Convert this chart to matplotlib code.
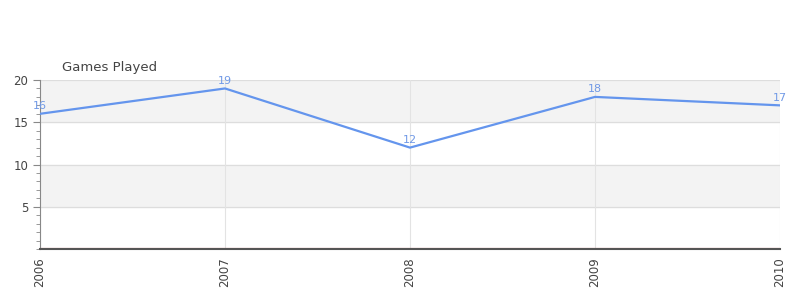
import matplotlib.pyplot as plt
from matplotlib.ticker import MultipleLocator

years = [2006, 2007, 2008, 2009, 2010]
games = [16, 19, 12, 18, 17]
y_ticks = [5, 10, 15, 20]

fig = plt.figure(figsize=(8, 3), dpi=100)
ax = fig.add_axes([0.05, 0.17, 0.925, 0.5633])

# alternating bands
ax.axhspan(5, 10, color='#f3f3f3', zorder=0)
ax.axhspan(15, 20, color='#f3f3f3', zorder=0)
for y in y_ticks:
    ax.axhline(y, color='#dddddd', lw=0.9, zorder=1)
for x in years:
    ax.axvline(x, color='#e3e3e3', lw=0.8, zorder=1)

ax.plot(years, games, color='#6495ed', lw=1.6, zorder=3)
for x, v in zip(years, games):
    ax.annotate(str(v), (x, v), xytext=(0, 2), textcoords='offset points',
                ha='center', va='bottom', fontsize=8, color='#7099e6', zorder=4)

ax.axhline(0.15, color='#cc0000', lw=0.8, zorder=2)

ax.set_xlim(2006, 2010)
ax.set_ylim(0, 20)
ax.set_yticks(y_ticks)
ax.yaxis.set_minor_locator(MultipleLocator(1))
ax.set_xticks(years)
ax.set_xticklabels([str(y) for y in years], rotation=90)
ax.tick_params(axis='x', length=0, labelsize=8.5, colors='#444444', pad=6)
ax.tick_params(axis='y', which='major', length=5, color='#888888', labelsize=8.5,
               labelcolor='#444444')
ax.tick_params(axis='y', which='minor', length=3, color='#888888')

for s in ['top', 'right']:
    ax.spines[s].set_visible(False)
ax.spines['left'].set_color('#888888')
ax.spines['bottom'].set_color('#555555')
ax.spines['bottom'].set_linewidth(1.5)

fig.text(62 / 800, 1 - 67 / 300, 'Games Played', fontsize=9.5, color='#444444',
         ha='left', va='center')

fig.savefig('out.png', dpi=100)
